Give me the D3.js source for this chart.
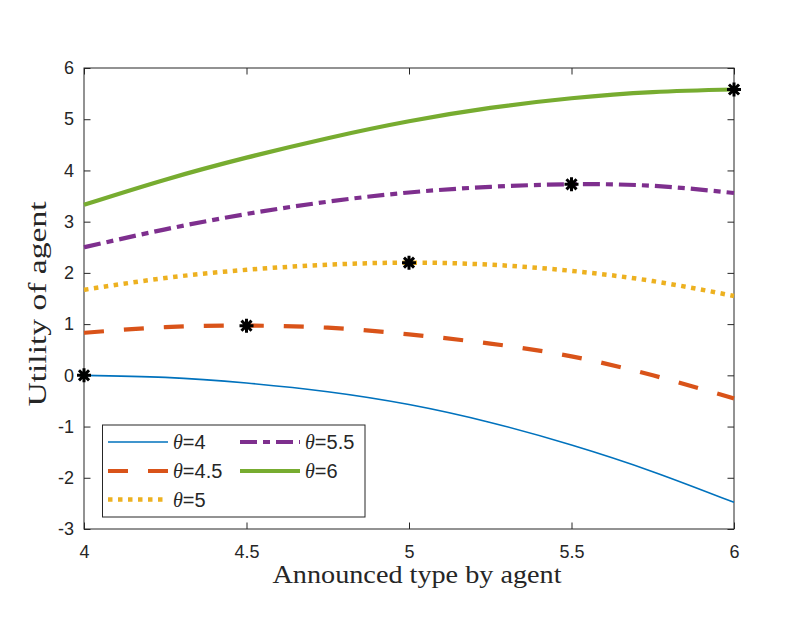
<!DOCTYPE html>
<html>
<head>
<meta charset="utf-8">
<script src="https://cdn.jsdelivr.net/npm/d3@7"></script>
<style>
  body { margin: 0; background: #fff; }
  svg { display: block; }
</style>
</head>
<body>
<div class="chart"></div>
<script>
// data (x step 0.25)
const xValues = [4, 4.25, 4.5, 4.75, 5, 5.25, 5.5, 5.75, 6];
const theta4  = [0, -0.04, -0.15, -0.32, -0.57, -0.92, -1.36, -1.88, -2.48];
const theta45 = [0.83, 0.94, 0.97, 0.93, 0.80, 0.62, 0.37, 0.0, -0.45];
const theta5  = [1.67, 1.90, 2.06, 2.16, 2.20, 2.16, 2.04, 1.84, 1.55];
const theta55 = [2.50, 2.85, 3.15, 3.39, 3.57, 3.68, 3.73, 3.70, 3.56];
const theta6  = [3.33, 3.82, 4.25, 4.63, 4.96, 5.22, 5.41, 5.53, 5.58];
const seriesNames = ['4', '4.5', '5', '5.5', '6'];
// optimum points (asterisks)
const optX = [4, 4.5, 5, 5.5, 6];
const optY = [0, 0.97, 2.2, 3.73, 5.58];
const xTicks = [4, 4.5, 5, 5.5, 6];
const yTicks = [-3, -2, -1, 0, 1, 2, 3, 4, 5, 6];

// 線條樣式
const styles = [
  {color: '#0072BD', width: 1.6, dash: null},
  {color: '#D95319', width: 4.2, dash: '20,20'},
  {color: '#EDB120', width: 4.5, dash: '4.5,5.5'},
  {color: '#7E2F8E', width: 4.2, dash: '17,6,7,6'},
  {color: '#77AC30', width: 4.2, dash: null}
];

const svg_width = 789, svg_height = 618;
const margin = {top: 68, left: 84};
const width = 650, height = 461;

const svg = d3.select('.chart').append('svg')
  .attr('width', svg_width).attr('height', svg_height);
const g = svg.append('g').attr('transform', `translate(${margin.left},${margin.top})`);

const xScale = d3.scaleLinear([4, 6], [0, width]);
const yScale = d3.scaleLinear([-3, 6], [height, 0]);

const allSeries = [theta4, theta45, theta5, theta55, theta6];
const line = d3.line()
  .x((d, i) => xScale(xValues[i]))
  .y(d => yScale(d))
  .curve(d3.curveNatural);

const axisColor = '#262626';
const tickFont = '"Liberation Sans", Arial, sans-serif';
const fmt = d => String(d);

// axes (ticks inside, MATLAB box)
const tickLen = 6.5;
const styleAxis = a => {
  a.select('.domain').remove();
  a.attr('font-size', 18).attr('font-family', tickFont);
};
g.append('g').attr('transform', `translate(0,${height})`)
  .call(d3.axisBottom(xScale).tickValues(xTicks).tickSizeInner(-tickLen).tickSizeOuter(0).tickPadding(16).tickFormat(fmt))
  .call(styleAxis);
g.append('g')
  .call(d3.axisTop(xScale).tickValues(xTicks).tickSizeInner(-tickLen).tickSizeOuter(0).tickFormat(''))
  .call(styleAxis);
g.append('g')
  .call(d3.axisLeft(yScale).tickValues(yTicks).tickSizeInner(-tickLen).tickSizeOuter(0).tickPadding(10).tickFormat(fmt))
  .call(styleAxis);
g.append('g').attr('transform', `translate(${width},0)`)
  .call(d3.axisRight(yScale).tickValues(yTicks).tickSizeInner(-tickLen).tickSizeOuter(0).tickFormat(''))
  .call(styleAxis);

g.selectAll('.tick line').attr('stroke', axisColor).attr('stroke-width', 1);
g.selectAll('.tick text').attr('fill', axisColor);

g.append('rect').attr('width', width).attr('height', height)
  .attr('fill', 'none').attr('stroke', axisColor).attr('stroke-width', 1);

// curves
g.append('g').selectAll('path').data(allSeries).join('path')
  .attr('d', d => line(d))
  .attr('fill', 'none')
  .attr('stroke', (d, i) => styles[i].color)
  .attr('stroke-width', (d, i) => styles[i].width)
  .attr('stroke-dasharray', (d, i) => styles[i].dash);

// asterisk markers
const r = 7;
const star = `M${-r},0L${r},0M0,${-r}L0,${r}M${-r*0.72},${-r*0.72}L${r*0.72},${r*0.72}M${-r*0.72},${r*0.72}L${r*0.72},${-r*0.72}`;
g.append('g').selectAll('path').data(optX).join('path')
  .attr('transform', (d, i) => `translate(${xScale(d)},${yScale(optY[i])})`)
  .attr('d', star)
  .attr('stroke', '#000').attr('stroke-width', 3).attr('fill', 'none');

// axis labels
const serif = '"Liberation Serif", "DejaVu Serif", serif';
svg.append('text')
  .attr('x', 417).attr('y', 583)
  .attr('text-anchor', 'middle')
  .attr('textLength', 289).attr('lengthAdjust', 'spacingAndGlyphs')
  .style('font-family', serif).style('font-size', '26px').attr('fill', axisColor)
  .text('Announced type by agent');
svg.append('text')
  .attr('transform', 'translate(46,304) rotate(-90)')
  .attr('text-anchor', 'middle')
  .attr('textLength', 205).attr('lengthAdjust', 'spacingAndGlyphs')
  .style('font-family', serif).style('font-size', '26px').attr('fill', axisColor)
  .text('Utility of agent');

// legend
const legend = svg.append('g');
legend.append('rect')
  .attr('x', 102.5).attr('y', 425).attr('width', 262.5).attr('height', 92)
  .attr('fill', '#fff').attr('stroke', axisColor).attr('stroke-width', 1);
const legPos = [[108, 442], [108, 471], [108, 499.5], [240, 442], [240, 471]];
const items = legend.selectAll('g.item').data(seriesNames).join('g').attr('class', 'item')
  .attr('transform', (d, i) => `translate(${legPos[i][0]},${legPos[i][1]})`);
items.append('line')
  .attr('x1', 0).attr('x2', 60).attr('y1', 0).attr('y2', 0)
  .attr('stroke', (d, i) => styles[i].color)
  .attr('stroke-width', (d, i) => styles[i].width)
  .attr('stroke-dasharray', (d, i) => styles[i].dash);
const lt = items.append('text')
  .attr('x', 65).attr('y', 7)
  .style('font-family', tickFont).style('font-size', '20px').attr('fill', axisColor);
lt.append('tspan').style('font-family', serif).style('font-style', 'italic').text('θ');
lt.append('tspan').text(d => '=' + d);
</script>
</body>
</html>
